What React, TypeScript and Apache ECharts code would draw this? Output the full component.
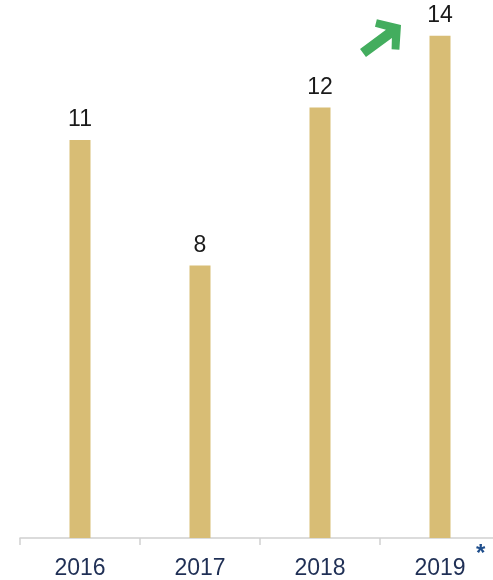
import React, { useEffect, useRef } from "react";
import * as echarts from "echarts";

const categories = ["2016", "2017", "2018", "2019"];
const values = [11.1, 7.6, 12.0, 14.0];

function arrowPoints(tx: number, ty: number, hx: number, hy: number) {
  const dx = hx - tx;
  const dy = hy - ty;
  const L = Math.sqrt(dx * dx + dy * dy);
  const ux = dx / L;
  const uy = dy / L;
  const nx = -uy;
  const ny = ux;
  const local: [number, number][] = [
    [0, -5],
    [L - 15, -5],
    [L - 22, -14],
    [L - 16, -19],
    [L, 0],
    [L - 16, 19],
    [L - 22, 14],
    [L - 15, 5],
    [0, 5],
  ];
  return local.map(([a, b]) => [tx + ux * a + nx * b, ty + uy * a + ny * b]);
}

export default function App() {
  const ref = useRef<HTMLDivElement>(null);
  useEffect(() => {
    if (!ref.current) return;
    const chart = echarts.init(ref.current, null, { renderer: "svg" });
    chart.setOption({
      animation: false,
      grid: { left: 20, width: 480, top: 0, height: 538, outerBoundsMode: "none" },
      xAxis: {
        type: "category",
        data: categories,
        axisLine: { show: true, lineStyle: { color: "#d0d0d0", width: 1.5 } },
        axisTick: { show: true, length: 7, lineStyle: { color: "#d0d0d0", width: 1.5 } },
        axisLabel: {
          margin: 17,
          color: "#1f2f55",
          fontSize: 23,
          fontFamily: "Liberation Sans, Arial, sans-serif",
        },
      },
      yAxis: {
        type: "value",
        min: 0,
        max: 15,
        show: false,
        splitLine: { show: false },
      },
      series: [
        {
          type: "bar",
          data: values,
          barWidth: 21,
          itemStyle: { color: "#d8bd75" },
          label: {
            show: true,
            position: "top",
            distance: 10,
            color: "#1a1a1a",
            fontSize: 23,
            fontFamily: "Liberation Sans, Arial, sans-serif",
            formatter: (p: any) => String(Math.round(p.value)),
          },
        },
      ],
      graphic: [
        {
          type: "polygon",
          shape: { points: arrowPoints(363, 53, 401, 25) },
          style: { fill: "#43ad5e" },
        },
        {
          type: "text",
          left: 476,
          top: 540,
          style: {
            text: "*",
            fill: "#1f4e8c",
            fontSize: 24,
            fontWeight: "bold",
            fontFamily: "Liberation Sans, Arial, sans-serif",
          },
        },
      ],
    });
    return () => chart.dispose();
  }, []);
  return (
    <div
      ref={ref}
      style={{ position: "fixed", left: 0, top: 0, width: 493, height: 580 }}
    />
  );
}
